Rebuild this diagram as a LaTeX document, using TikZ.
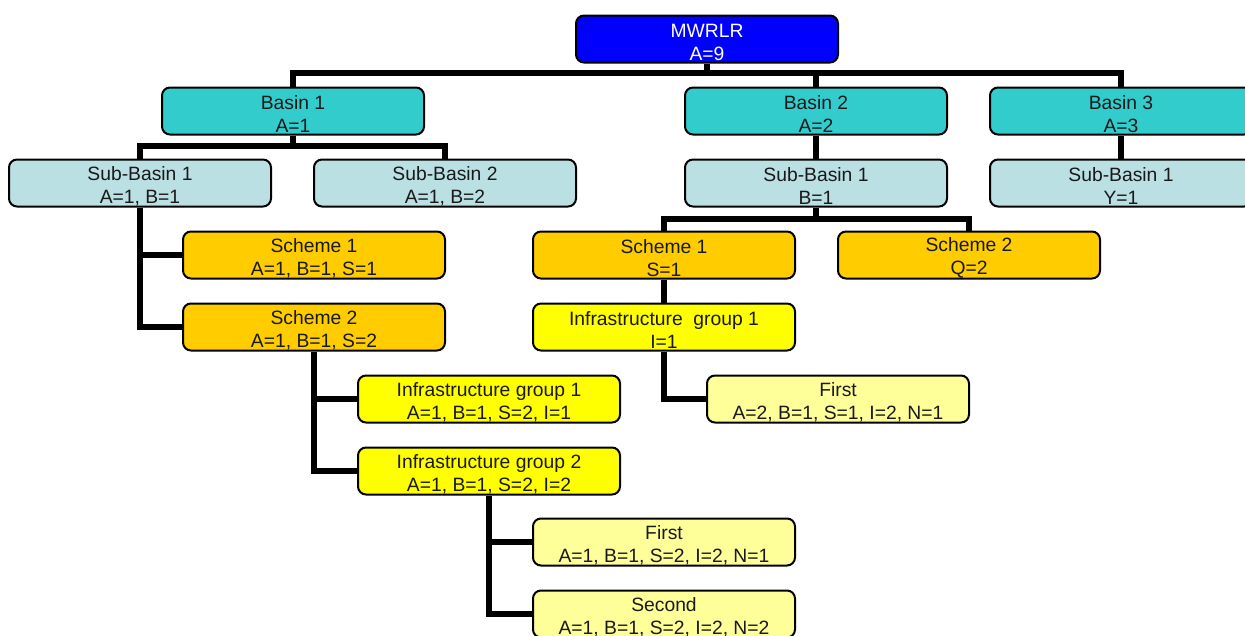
\documentclass[tikz,border=0pt]{standalone}
\usepackage{fontspec}
\setmainfont{Liberation Sans}
\definecolor{cblue}{HTML}{0000FF}
\definecolor{cteal}{HTML}{33CCCC}
\definecolor{clblue}{HTML}{BBE0E3}
\definecolor{corange}{HTML}{FFCC00}
\definecolor{cyellow}{HTML}{FFFF00}
\definecolor{clyellow}{HTML}{FFFF99}
\tikzset{
  box/.style={draw=black, line width=2pt, rounded corners=8pt, minimum width=262pt, minimum height=47pt,
    inner sep=0pt},
  lbl/.style={align=center, inner sep=0pt, yshift=-3pt, font=\fontsize{19.3}{23}\selectfont, text=black!90},
  wlbl/.style={lbl, text=white},
  top/.style={box, fill=cblue},
  basin/.style={box, fill=cteal},
  sub/.style={box, fill=clblue},
  scheme/.style={box, fill=corange},
  infra/.style={box, fill=cyellow},
  leaf/.style={box, fill=clyellow},
  link/.style={line width=6pt, line join=miter}
}
\begin{document}
\begin{tikzpicture}[x=1pt,y=-1pt]
\useasboundingbox (0,0) rectangle (1245,635);
\clip (0,0) rectangle (1245,635);
\node[top, label={[wlbl]center:{MWRLR\\A=9}}] (mw) at (707,39) {};
\node[basin, label={[lbl]center:{Basin 1\\A=1}}] (b1) at (293,111) {};
\node[basin, label={[lbl]center:{Basin 2\\A=2}}] (b2) at (816,111) {};
\node[basin, label={[lbl]center:{Basin 3\\A=3}}] (b3) at (1121,111) {};
\node[sub, label={[lbl]center:{Sub-Basin 1\\A=1, B=1}}] (s11) at (140,183) {};
\node[sub, label={[lbl]center:{Sub-Basin 2\\A=1, B=2}}] (s12) at (445,183) {};
\node[sub, label={[lbl]center:{Sub-Basin 1\\B=1}}] (s21) at (816,183) {};
\node[sub, label={[lbl]center:{Sub-Basin 1\\Y=1}}] (s31) at (1121,183) {};
\node[scheme, label={[lbl]center:{Scheme 1\\A=1, B=1, S=1}}] (sc1) at (314,255) {};
\node[scheme, label={[lbl]center:{Scheme 2\\A=1, B=1, S=2}}] (sc2) at (314,327) {};
\node[scheme, label={[lbl]center:{Scheme 1\\S=1}}] (sm1) at (664,255) {};
\node[scheme, label={[lbl]center:{Scheme 2\\Q=2}}] (sm2) at (969,255) {};
\node[infra, label={[lbl]center:{Infrastructure\ \ group 1\\I=1}}] (im1) at (664,327) {};
\node[leaf, label={[lbl]center:{First\\A=2, B=1, S=1, I=2, N=1}}] (fm) at (838,399) {};
\node[infra, label={[lbl]center:{Infrastructure group 1\\A=1, B=1, S=2, I=1}}] (i1) at (489,399) {};
\node[infra, label={[lbl]center:{Infrastructure group 2\\A=1, B=1, S=2, I=2}}] (i2) at (489,471) {};
\node[leaf, label={[lbl]center:{First\\A=1, B=1, S=2, I=2, N=1}}] (f1) at (664,542) {};
\node[leaf, label={[lbl]center:{Second\\A=1, B=1, S=2, I=2, N=2}}] (f2) at (664,614) {};
% top bus
\draw[link] (mw.south) -- ++(0,11);
\draw[link] (b1.north) -- ++(0,-14) -| (b3.north);
\draw[link] (b2.north) -- ++(0,-14);
% basin 1
\draw[link] (b1.south) -- ++(0,11);
\draw[link] (s11.north) -- ++(0,-13) -| (s12.north);
% basin 2 and 3
\draw[link] (b2.south) -- (s21.north);
\draw[link] (b3.south) -- (s31.north);
% sub-basin 1 left
\draw[link] (s11.south) |- (sc2.west);
\draw[link] (sc1.west) -- (sc1.west -| s11.south);
% sub-basin 1 mid
\draw[link] (s21.south) -- ++(0,12);
\draw[link] (sm1.north) -- ++(0,-12) -| (sm2.north);
\draw[link] (sm1.south) -- (im1.north);
\draw[link] (im1.south) |- (fm.west);
% scheme 2 left
\draw[link] (sc2.south) |- (i2.west);
\draw[link] (i1.west) -- (i1.west -| sc2.south);
% infra group 2
\draw[link] (i2.south) |- (f2.west);
\draw[link] (f1.west) -- (f1.west -| i2.south);
\end{tikzpicture}
\end{document}
